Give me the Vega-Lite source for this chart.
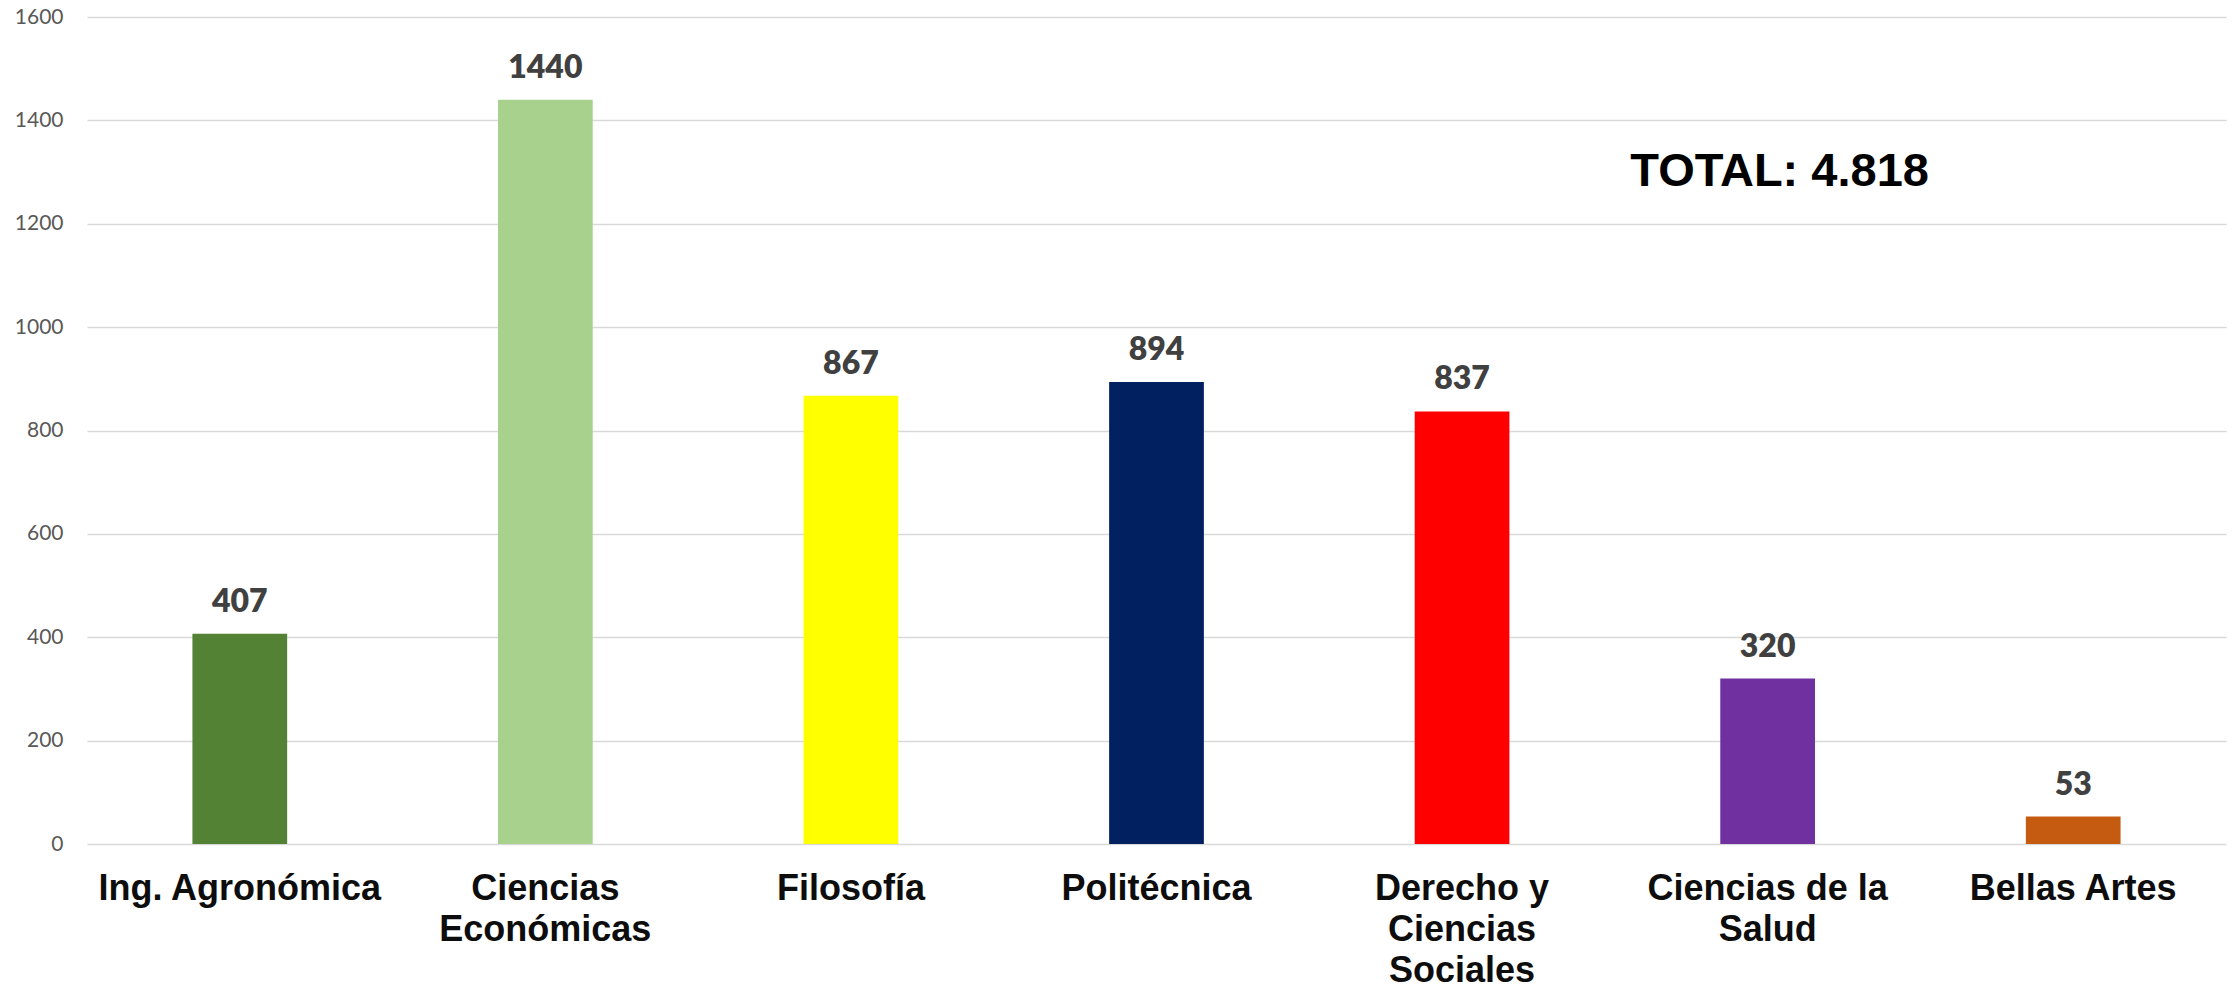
{
  "$schema": "https://vega.github.io/schema/vega-lite/v6.json",
  "autosize": {"type": "none"},
  "padding": {"left": 87, "top": 17, "right": 6, "bottom": 147},
  "width": 2139,
  "height": 827,
  "background": "#ffffff",
  "config": {"view": {"stroke": null}},
  "datasets": {
    "bars": [
      {"cat": "Ing. Agronómica", "n": 407},
      {"cat": "Ciencias Económicas", "n": 1440},
      {"cat": "Filosofía", "n": 867},
      {"cat": "Politécnica", "n": 894},
      {"cat": "Derecho y Ciencias Sociales", "n": 837},
      {"cat": "Ciencias de la Salud", "n": 320},
      {"cat": "Bellas Artes", "n": 53}
    ],
    "total": [
      {"cat": "Ciencias de la Salud", "n": 1300, "label": "TOTAL: 4.818"}
    ]
  },
  "encoding": {
    "x": {
      "field": "cat",
      "type": "nominal",
      "sort": null,
      "scale": {
        "domain": ["Ing. Agronómica", "Ciencias Económicas", "Filosofía", "Politécnica", "Derecho y Ciencias Sociales", "Ciencias de la Salud", "Bellas Artes"],
        "paddingInner": 0.69,
        "paddingOuter": 0.345
      },
      "axis": {
        "title": null,
        "domain": false,
        "ticks": false,
        "tickSize": 0,
        "labelAngle": 0,
        "labelFont": "Liberation Sans",
        "labelFontWeight": "bold",
        "labelFontSize": 36,
        "labelColor": "#0d0d0d",
        "labelLineHeight": 41,
        "labelPadding": 27,
        "labelLimit": 0,
        "labelBaseline": "top",
        "labelExpr": "datum.value == 'Ciencias Económicas' ? ['Ciencias', 'Económicas'] : datum.value == 'Derecho y Ciencias Sociales' ? ['Derecho y', 'Ciencias', 'Sociales'] : datum.value == 'Ciencias de la Salud' ? ['Ciencias de la', 'Salud'] : datum.value"
      }
    },
    "y": {
      "field": "n",
      "type": "quantitative",
      "scale": {"domain": [0, 1600], "nice": false},
      "axis": {
        "title": null,
        "values": [0, 200, 400, 600, 800, 1000, 1200, 1400, 1600],
        "format": "d",
        "domain": false,
        "ticks": false,
        "tickSize": 0,
        "grid": true,
        "gridColor": "#d9d9d9",
        "gridWidth": 1.6,
        "labelFont": "Lato",
        "labelFontSize": 21,
        "labelColor": "#595959",
        "labelPadding": 24
      }
    }
  },
  "layer": [
    {
      "data": {"name": "bars"},
      "mark": {"type": "bar"},
      "encoding": {
        "color": {
          "field": "cat",
          "type": "nominal",
          "legend": null,
          "scale": {
            "domain": ["Ing. Agronómica", "Ciencias Económicas", "Filosofía", "Politécnica", "Derecho y Ciencias Sociales", "Ciencias de la Salud", "Bellas Artes"],
            "range": ["#548235", "#A9D18E", "#FFFF00", "#002060", "#FF0000", "#7030A0", "#C55A11"]
          }
        }
      }
    },
    {
      "data": {"name": "bars"},
      "mark": {"type": "text", "font": "Lato", "fontWeight": 800, "fontSize": 32, "color": "#404040", "baseline": "alphabetic", "dy": -22},
      "encoding": {"text": {"field": "n", "type": "quantitative", "format": "d"}}
    },
    {
      "data": {"name": "total"},
      "mark": {"type": "text", "font": "Liberation Sans", "fontWeight": "bold", "fontSize": 47, "color": "#000000", "baseline": "middle", "dx": 12},
      "encoding": {"text": {"field": "label", "type": "nominal"}}
    }
  ]
}
